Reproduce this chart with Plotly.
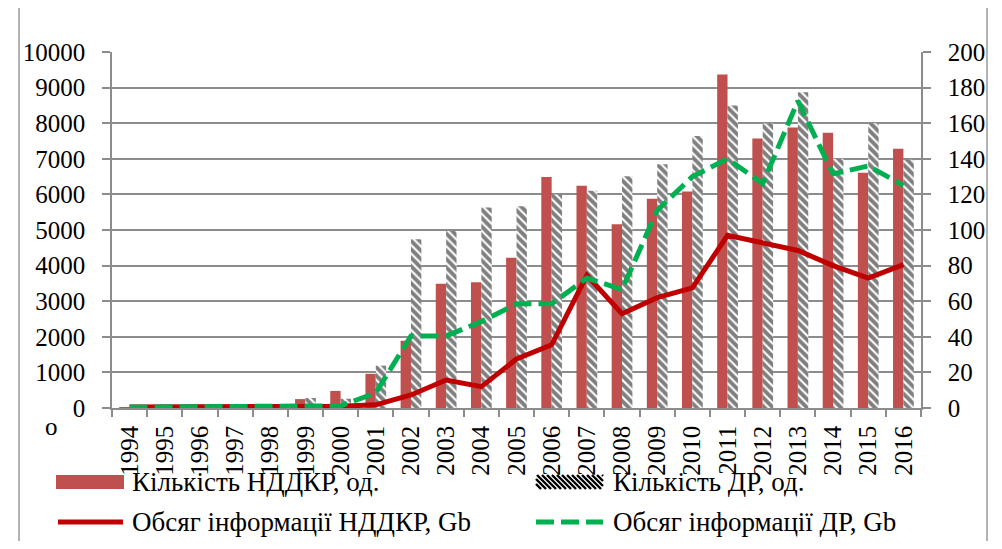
import plotly.graph_objects as go

# ---------------- data ----------------
years = [str(y) for y in range(1994, 2017)]
nddkr_count = [20, 30, 60, 40, 40, 250, 480, 960, 1890, 3490, 3530, 4220, 6490,
               6240, 5160, 5880, 6080, 9370, 7570, 7880, 7730, 6610, 7280]
dr_count = [10, 20, 30, 30, 40, 280, 260, 1190, 4740, 4970, 5630, 5670, 6000,
            6100, 6510, 6850, 7640, 8500, 7990, 8870, 7000, 8000, 6970]
nddkr_gb = [0.5, 0.5, 0.5, 0.5, 0.5, 0.8, 1.0, 1.8, 7.3, 15.7, 12.0, 27.5, 35.5,
            74.5, 53.0, 62.0, 67.5, 97.0, 93.0, 88.5, 80.0, 73.0, 80.5]
dr_gb = [0.5, 0.5, 0.5, 0.5, 0.8, 1.0, 1.2, 8.5, 40.5, 40.5, 48.5, 58.5, 58.5,
         73.0, 66.5, 111.0, 130.0, 140.0, 126.0, 172.5, 131.5, 136.0, 125.0]

names = ["Кількість НДДКР, од.", "Кількість ДР, од.",
         "Обсяг інформації НДДКР, Gb", "Обсяг інформації ДР, Gb"]
left_ticks = list(range(0, 10001, 1000))
right_ticks = list(range(0, 201, 20))

# ---------------- style ----------------
FONT = "Liberation Serif"
FS = 25
RED_BAR = "#C0504D"
RED_LINE = "#C00000"
GREEN = "#00B050"
GRID = "#8c8c8c"

# page offset (browser body margin)
OFF = 8
W, H = 1002 - 2 * OFF, 549 - 2 * OFF
# plot area in page pixels
PL, PR, PT, PB = 112, 921, 52, 408
ML, MR, MT, MB = PL - OFF, W - (PR - OFF), PT - OFF, H - (PB - OFF)
PW, PH = PR - PL, PB - PT


def px(x):
    return (x - PL) / PW


def py(y):
    return (PB - y) / PH


fig = go.Figure()
fig.add_trace(go.Bar(x=years, y=nddkr_count, name=names[0],
                     marker=dict(color=RED_BAR, line=dict(width=0))))
fig.add_trace(go.Bar(x=years, y=dr_count, name=names[1],
                     marker=dict(color="white", line=dict(width=0),
                                 pattern=dict(shape="\\", fgcolor="black",
                                              bgcolor="white", size=6,
                                              solidity=0.65))))
fig.add_trace(go.Scatter(x=years, y=nddkr_gb, name=names[2], yaxis="y2",
                         mode="lines", line=dict(color=RED_LINE, width=5)))
fig.add_trace(go.Scatter(x=years, y=dr_gb, name=names[3], yaxis="y2",
                         mode="lines",
                         line=dict(color=GREEN, width=5, dash="18px,7px")))

fig.update_layout(
    width=W, height=H,
    margin=dict(l=ML, r=MR, t=MT, b=MB, autoexpand=False),
    paper_bgcolor="white", plot_bgcolor="white",
    showlegend=False,
    barmode="group", bargap=0.41, bargroupgap=0,
    font=dict(family=FONT, size=FS, color="black"),
    xaxis=dict(type="category", tickangle=-90, showgrid=False,
               showline=True, linecolor=GRID, linewidth=1.5,
               ticks="outside", tickson="boundaries", ticklen=7,
               tickcolor=GRID, tickwidth=1.5, ticklabelstandoff=6,
               tickfont=dict(family=FONT, size=FS)),
    yaxis=dict(range=[0, 10000], tickvals=left_ticks,
               ticktext=[str(v) for v in left_ticks],
               showgrid=True, gridcolor=GRID, gridwidth=1.5,
               showline=True, linecolor=GRID, linewidth=1.5,
               ticks="outside", ticklen=8, tickcolor=GRID, tickwidth=1.5,
               ticklabelstandoff=12, zeroline=False,
               tickfont=dict(family=FONT, size=FS)),
    yaxis2=dict(range=[0, 200], tickvals=right_ticks,
                ticktext=[str(v) for v in right_ticks],
                overlaying="y", side="right", showgrid=False,
                showline=True, linecolor=GRID, linewidth=1.5,
                ticks="outside", ticklen=8, tickcolor=GRID, tickwidth=1.5,
                ticklabelstandoff=12, zeroline=False,
                tickfont=dict(family=FONT, size=FS)),
)

shapes = []
# outer frame
shapes.append(dict(type="rect", xref="paper", yref="paper",
                   x0=px(19), x1=px(987), y0=py(565), y1=py(7),
                   line=dict(color="#9a9a9a", width=1.5), layer="below"))

# manual legend
shapes.append(dict(type="rect", xref="paper", yref="paper",
                   x0=px(56), x1=px(124), y0=py(489), y1=py(475),
                   fillcolor=RED_BAR, line=dict(width=0)))
hx0, hx1, hy0, hy1 = 536, 603, 475, 489
step = 5.0
k = hx0 - (hy1 - hy0)
while k < hx1:
    ya, yb = hy0, hy1
    xa, xb = k, k + (hy1 - hy0)
    if xa < hx0:
        ya = hy0 + (hx0 - xa)
        xa = hx0
    if xb > hx1:
        yb = hy1 - (xb - hx1)
        xb = hx1
    if xb > xa:
        shapes.append(dict(type="line", xref="paper", yref="paper",
                           x0=px(xa), x1=px(xb), y0=py(ya), y1=py(yb),
                           line=dict(color="black", width=2.4)))
    k += step
shapes.append(dict(type="line", xref="paper", yref="paper",
                   x0=px(58), x1=px(123), y0=py(522), y1=py(522),
                   line=dict(color=RED_LINE, width=5)))
shapes.append(dict(type="line", xref="paper", yref="paper",
                   x0=px(536), x1=px(603), y0=py(522), y1=py(522),
                   line=dict(color=GREEN, width=5, dash="18px,7px")))

annotations = []
for (xp, yp, txt) in [(130, 482, names[0]), (611, 482, names[1]),
                      (130, 522, names[2]), (611, 522, names[3])]:
    annotations.append(dict(x=px(xp), y=py(yp), xref="paper", yref="paper",
                            text=txt, showarrow=False, xanchor="left",
                            yanchor="middle",
                            font=dict(family=FONT, size=27, color="black")))
annotations.append(dict(x=px(51), y=py(426), xref="paper", yref="paper",
                        text="o", showarrow=False, xanchor="center",
                        yanchor="middle",
                        font=dict(family=FONT, size=FS, color="black")))

fig.update_layout(shapes=shapes, annotations=annotations)
fig.write_html("out.html")
